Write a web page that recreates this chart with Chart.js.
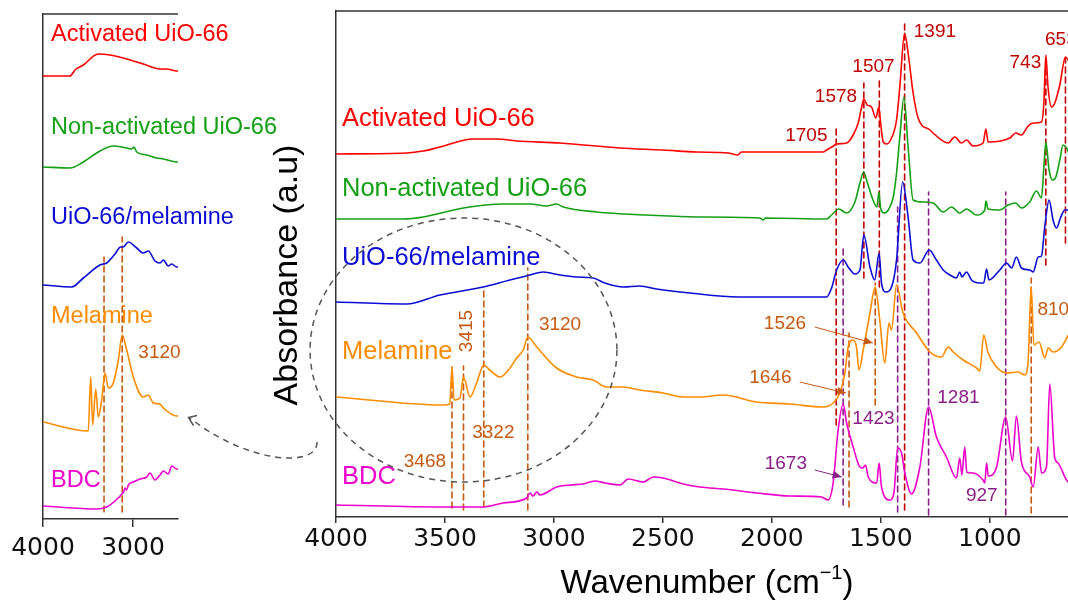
<!DOCTYPE html>
<html>
<head>
<meta charset="utf-8">
<script src="https://cdn.jsdelivr.net/npm/chart.js@4.4.0/dist/chart.umd.min.js"></script>
<style>
  html, body { margin: 0; padding: 0; background: #fff; overflow: hidden; }
  #wrap { position: relative; width: 1068px; height: 602px; overflow: hidden; }
  #wrap canvas { position: absolute; left: 0; top: 0; }
</style>
</head>
<body>
<div id="wrap">
  <canvas id="inset" width="300" height="602"></canvas>
  <canvas id="main" width="1100" height="602"></canvas>
</div>
<script>
// ---------- tick labels ----------
const mainTicks = [4000, 3500, 3000, 2500, 2000, 1500, 1000];
const insetTicks = [4000, 3000];

// ---------- FTIR spectra, main panel: [wavenumber, stacked absorbance] ----------
const activated = [
  [4000,363],[3676,364],[3600,366],[3523,370],[3372,378],[3263,378],[3171,376],[2972,374],
  [2697,369],[2500,367],[2345,365],[2200,364],[2156,362],[2140,365],[1900,365],[1765,365],
  [1749,367],[1711,372],[1705,373],[1657,374],[1627,382],[1604,394],[1589,409],[1578,418],
  [1563,412],[1543,410],[1523,399],[1509,410],[1501,394],[1489,375],[1474,373],[1451,379],
  [1428,397],[1413,430],[1391,484],[1375,464],[1352,424],[1329,399],[1275,387],[1191,374],
  [1161,380],[1130,374],[1107,377],[1077,371],[1031,374],[1018,388],[1008,375],[908,379],
  [881,384],[855,382],[824,391],[801,394],[763,395],[752,414],[743,462],[733,430],[717,410],
  [702,414],[679,432],[653,460],[624,449],[600,437]
];
const nonActivated = [
  [4000,298],[3691,298],[3600,300],[3416,309],[3233,313],[3110,313],[3034,311],[2988,313],
  [2957,310],[2804,305],[2575,302],[2345,300],[2055,299],[2040,297],[2030,299],[1749,298],
  [1726,302],[1693,308],[1657,304],[1619,315],[1596,334],[1579,345],[1563,335],[1536,317],
  [1518,310],[1509,325],[1501,309],[1486,304],[1466,307],[1443,320],[1428,344],[1413,380],
  [1394,420],[1375,370],[1352,317],[1306,315],[1260,314],[1214,305],[1176,310],[1138,304],
  [1107,308],[1061,302],[1023,307],[1018,316],[1008,308],[954,307],[916,312],[881,314],
  [855,309],[817,315],[786,326],[763,319],[752,350],[743,375],[728,347],[712,337],[697,340],
  [679,357],[664,372],[648,369],[624,357],[600,347]
];
const uioMelamine = [
  [4000,215],[3676,213],[3523,222],[3324,230],[3202,237],[3110,242],[3049,245],[2972,242],
  [2896,240],[2820,239],[2766,234],[2682,230],[2606,231],[2529,228],[2376,224],[2155,220],
  [1765,220],[1749,220],[1726,229],[1703,247],[1672,257],[1650,250],[1619,243],[1596,247],
  [1578,282],[1550,250],[1528,237],[1508,264],[1497,234],[1477,225],[1451,230],[1428,257],
  [1400,335],[1375,300],[1352,257],[1321,254],[1278,267],[1245,257],[1214,247],[1183,242],
  [1153,239],[1138,245],[1128,240],[1107,245],[1084,237],[1046,234],[1028,234],[1015,248],
  [1004,237],[954,247],[923,254],[900,249],[878,260],[855,249],[817,247],[801,245],[778,260],
  [763,261],[748,290],[728,317],[710,297],[694,289],[676,299],[656,307],[642,307],[600,305]
];
const melamine = [
  [4000,120],[3508,112],[3478,113],[3468,150],[3458,117],[3431,119],[3415,140],[3385,120],
  [3355,134],[3322,152],[3294,147],[3248,140],[3202,149],[3171,159],[3141,167],[3120,180],
  [3079,170],[2988,149],[2896,140],[2820,137],[2758,130],[2682,130],[2606,127],[2499,124],
  [2406,120],[2330,120],[2223,122],[2070,115],[1917,113],[1765,110],[1719,114],[1688,124],
  [1665,144],[1650,170],[1627,177],[1612,170],[1600,147],[1581,167],[1550,204],[1526,230],
  [1505,197],[1482,154],[1463,194],[1451,187],[1428,232],[1398,204],[1336,184],[1275,165],
  [1222,160],[1191,170],[1168,165],[1122,157],[1061,149],[1046,146],[1028,182],[1009,165],
  [969,150],[923,144],[870,145],[839,142],[824,157],[810,230],[798,172],[774,175],[748,159],
  [732,169],[710,165],[671,170],[642,181],[600,197]
];
const bdc = [
  [4000,12],[3508,10],[3324,10],[3233,14],[3125,19],[3110,24],[3096,21],[3078,25],[3064,22],
  [2988,30],[2927,32],[2866,33],[2812,36],[2766,34],[2697,32],[2659,38],[2590,35],[2544,40],
  [2499,39],[2406,33],[2330,30],[2223,28],[2070,24],[1917,21],[1772,20],[1742,17],[1719,34],
  [1696,87],[1673,113],[1657,94],[1627,70],[1596,50],[1583,49],[1570,52],[1558,40],[1519,34],
  [1508,54],[1497,30],[1459,17],[1440,24],[1423,69],[1405,64],[1390,44],[1359,23],[1321,50],
  [1281,110],[1245,80],[1199,60],[1153,39],[1138,59],[1128,42],[1115,70],[1106,45],[1077,44],
  [1031,37],[1023,34],[1015,54],[1007,41],[969,50],[927,100],[896,56],[878,101],[855,55],
  [817,40],[801,30],[778,70],[763,44],[740,50],[725,133],[702,59],[687,54],[648,37],[600,27]
];

// ---------- FTIR spectra, 4000-2500 inset ----------
const insetActivated = [
  [4000,443],[3700,443],[3644,449],[3552,454],[3386,465],[3256,464],[3070,460],[2886,455],
  [2700,450],[2626,450],[2514,448],[2500,448]
];
const insetNonActivated = [
  [4000,352],[3700,351],[3552,357],[3367,368],[3219,373],[3070,371],[3014,370],[2989,372],
  [2959,367],[2848,364],[2737,361],[2663,360],[2514,357],[2500,357]
];
const insetUioMelamine = [
  [4000,234],[3681,232],[3552,241],[3367,254],[3292,256],[3200,265],[3137,272],[3108,272],
  [3052,277],[2959,271],[2886,266],[2830,268],[2756,258],[2700,256],[2663,259],[2608,253],
  [2570,255],[2514,252],[2500,252]
];
const insetMelamine = [
  [4000,97],[3497,88],[3470,142],[3448,94],[3414,130],[3386,102],[3348,119],[3311,146],
  [3274,131],[3219,136],[3163,159],[3120,184],[3070,169],[2997,142],[2886,122],[2830,124],
  [2774,116],[2700,115],[2663,111],[2514,103],[2500,103]
];
const insetBdc = [
  [4000,13],[3403,10],[3292,12],[3200,18],[3114,26],[3100,28],[3089,31],[3072,29],[3052,34],
  [2997,37],[2922,40],[2848,42],[2811,46],[2756,39],[2700,44],[2663,48],[2608,45],[2570,53],
  [2514,50],[2500,50]
];

// ---------- assigned bands: wavenumber and the span of each dashed guide ----------
const zrBands = [1705, 1578, 1507, 1391, 743, 653];
const zrSpans = [[92,389],[239,434],[230,437],[7,494],[252,460],[274,459]];
const melBands = [3468, 3415, 3322, 3120, 1646, 1526, 810];
const melSpans = [[9,150],[7,151],[10,230],[7,249],[10,184],[112,234],[4,239]];
const bdcBands = [1673, 1423, 1281, 927];
const bdcSpans = [[12,270],[5,310],[2,325],[2,325]];
const insetBands = [3322, 3120];
const insetSpans = [[7,262],[7,282]];

// ---------- styling ----------
const FONT = '"Liberation Sans", Arial, sans-serif';
const TICK_FONT = '"DejaVu Sans", Verdana, sans-serif';
const COL = {
  act: '#ff0000', non: '#14a014', uio: '#0c0cd4', mel: '#ff8c00', bdc: '#ee00cc',
  zr: '#c00000', melNum: '#c55a11', bdcNum: '#8b2088', axis: '#333333', grey: '#555555'
};

function curve(points, color) {
  return {
    data: points.map(([x, y]) => ({ x, y })),
    borderColor: color, borderWidth: 1.6, pointRadius: 0, fill: false,
    cubicInterpolationMode: 'monotone'
  };
}
function guides(bands, spans, color) {
  return bands.map((wn, i) => ({
    data: [{ x: wn, y: spans[i][0] }, { x: wn, y: spans[i][1] }],
    borderColor: color, borderWidth: 1.6, borderDash: [6, 4], pointRadius: 0,
    fill: false, tension: 0
  }));
}

function putText(ctx, str, x, y, color, font, align) {
  ctx.fillStyle = color;
  ctx.font = font;
  ctx.textAlign = align || 'center';
  ctx.textBaseline = 'middle';
  ctx.fillText(str, x, y);
}
function arrowLine(ctx, x0, y0, x1, y1, color) {
  ctx.strokeStyle = color; ctx.fillStyle = color; ctx.lineWidth = 1;
  ctx.setLineDash([]);
  ctx.beginPath(); ctx.moveTo(x0, y0); ctx.lineTo(x1, y1); ctx.stroke();
  const a = Math.atan2(y1 - y0, x1 - x0), L = 9, W = 4;
  ctx.beginPath();
  ctx.moveTo(x1, y1);
  ctx.lineTo(x1 - L * Math.cos(a) + W * Math.sin(a), y1 - L * Math.sin(a) - W * Math.cos(a));
  ctx.lineTo(x1 - L * Math.cos(a) - W * Math.sin(a), y1 - L * Math.sin(a) + W * Math.cos(a));
  ctx.closePath(); ctx.fill();
}

// ---------- label placement (wavenumber, absorbance) ----------
const seriesLabelsMain = [
  ['Activated UiO-66', COL.act, 398],
  ['Non-activated UiO-66', COL.non, 328],
  ['UiO-66/melamine', COL.uio, 259],
  ['Melamine', COL.mel, 165],
  ['BDC', COL.bdc, 40]
];
const zrLabelPos = { 1705: [1842, 381], 1578: [1706, 420], 1507: [1534, 450], 1391: [1252, 485], 743: [837, 454], 653: [674, 477] };
const melLabelPos = { 3468: [3592, 55], 3322: [3278, 84], 3120: [2972, 192], 1526: [1940, 193], 1646: [2007, 139], 810: [709, 207] };
const bdcLabelPos = { 1673: [1936, 53], 1423: [1534, 98], 1281: [1144, 119], 927: [1037, 21] };

const mainDecor = {
  id: 'mainDecor',
  afterDraw(chart) {
    const { ctx, chartArea: a, scales: { x, y } } = chart;
    const X = v => x.getPixelForValue(v), Y = v => y.getPixelForValue(v);
    ctx.save();
    // frame top edge
    ctx.strokeStyle = COL.axis; ctx.lineWidth = 1.5;
    ctx.beginPath(); ctx.moveTo(a.left, a.top); ctx.lineTo(a.right, a.top); ctx.stroke();

    // spectrum names
    const nameFont = `25.5px ${FONT}`;
    seriesLabelsMain.forEach(([t, c, v]) => putText(ctx, t, a.left + 6, Y(v), c, nameFont, 'left'));

    // band values
    const numFont = `19px ${FONT}`;
    zrBands.forEach(b => { const p = zrLabelPos[b]; putText(ctx, String(b), X(p[0]), Y(p[1]), COL.zr, numFont); });
    melBands.forEach(b => {
      const p = melLabelPos[b];
      if (p) putText(ctx, String(b), X(p[0]), Y(p[1]), COL.melNum, numFont);
    });
    bdcBands.forEach(b => { const p = bdcLabelPos[b]; putText(ctx, String(b), X(p[0]), Y(p[1]), COL.bdcNum, numFont); });

    // 3415 written vertically
    ctx.save();
    ctx.translate(X(3399), Y(186));
    ctx.rotate(-Math.PI / 2);
    putText(ctx, String(3415), 0, 0, COL.melNum, numFont);
    ctx.restore();

    // pointer arrows
    arrowLine(ctx, X(1803), Y(190), X(1537), Y(174), COL.melNum);
    arrowLine(ctx, X(1872), Y(135), X(1660), Y(124), COL.melNum);
    arrowLine(ctx, X(1803), Y(47), X(1680), Y(40), COL.bdcNum);

    // dashed ellipse around the N-H / O-H region
    ctx.strokeStyle = COL.grey; ctx.lineWidth = 1.5; ctx.setLineDash([6, 5]);
    const cx = X(3415), cy = Y(167);
    const rx = Math.abs(X(3415 - 704) - cx), ry = Math.abs(Y(167 + 132) - cy);
    ctx.beginPath(); ctx.ellipse(cx, cy, rx, ry, 0, 0, Math.PI * 2); ctx.stroke();

    // curved pointer to the inset
    ctx.beginPath();
    ctx.moveTo(317, 442);
    ctx.bezierCurveTo(318, 468, 248, 464, 190, 418);
    ctx.stroke();
    ctx.setLineDash([]);
    ctx.beginPath();
    ctx.moveTo(197, 415.5); ctx.lineTo(188.5, 417.5); ctx.lineTo(193.5, 425.5);
    ctx.stroke();

    // axis titles
    ctx.save();
    ctx.translate(288, 275);
    ctx.rotate(-Math.PI / 2);
    putText(ctx, 'Absorbance (a.u)', 0, 0, '#000', `34px ${FONT}`);
    ctx.restore();

    const t1 = 'Wavenumber (cm', t2 = '\u22121', t3 = ')';
    const big = `33px ${FONT}`, small = `20px ${FONT}`;
    ctx.font = big; const w1 = ctx.measureText(t1).width, w3 = ctx.measureText(t3).width;
    ctx.font = small; const w2 = ctx.measureText(t2).width;
    let sx = 707 - (w1 + w2 + w3) / 2;
    const base = 593;
    ctx.fillStyle = '#000'; ctx.textAlign = 'left'; ctx.textBaseline = 'alphabetic';
    ctx.font = big; ctx.fillText(t1, sx, base);
    ctx.font = small; ctx.fillText(t2, sx + w1, base - 14);
    ctx.font = big; ctx.fillText(t3, sx + w1 + w2, base);
    ctx.restore();
  }
};

const insetLabels = [
  ['Activated UiO-66', COL.act, 484],
  ['Non-activated UiO-66', COL.non, 391],
  ['UiO-66/melamine', COL.uio, 301],
  ['Melamine', COL.mel, 202],
  ['BDC', COL.bdc, 38]
];
const insetDecor = {
  id: 'insetDecor',
  afterDraw(chart) {
    const { ctx, chartArea: a, scales: { x, y } } = chart;
    const X = v => x.getPixelForValue(v), Y = v => y.getPixelForValue(v);
    ctx.save();
    ctx.strokeStyle = COL.axis; ctx.lineWidth = 1.5;
    ctx.beginPath(); ctx.moveTo(a.left, a.top); ctx.lineTo(a.right, a.top); ctx.stroke();
    const f = `23.5px ${FONT}`;
    insetLabels.forEach(([t, c, v]) => putText(ctx, t, a.left + 8, Y(v), c, f, 'left'));
    putText(ctx, String(insetBands[1]), X(2706), Y(166), COL.melNum, `19px ${FONT}`);
    ctx.restore();
  }
};

function axes(min, ticks, xHeight, tickLen, tickPad) {
  return {
    x: {
      type: 'linear', reverse: true, min: min, max: 4000,
      afterBuildTicks: s => { s.ticks = ticks.map(v => ({ value: v })); },
      afterFit: s => { s.height = xHeight; },
      ticks: {
        font: { family: TICK_FONT, size: 25 }, color: '#111', padding: tickPad,
        maxRotation: 0, autoSkip: false, callback: v => String(v)
      },
      grid: { drawOnChartArea: false, drawTicks: true, tickLength: tickLen, color: COL.axis, lineWidth: 1.5 },
      border: { color: COL.axis, width: 1.5 }
    },
    y: {
      min: 0, max: 506,
      afterFit: s => { s.width = 0; },
      ticks: { display: false },
      grid: { display: false },
      border: { color: COL.axis, width: 1.5 }
    }
  };
}

const common = {
  responsive: false, animation: false, devicePixelRatio: 1,
  plugins: { legend: { display: false }, tooltip: { enabled: false } },
  elements: { line: { borderCapStyle: 'round', borderJoinStyle: 'round' } }
};

new Chart(document.getElementById('main'), {
  type: 'line',
  data: {
    datasets: [
      curve(activated, COL.act),
      curve(nonActivated, COL.non),
      curve(uioMelamine, COL.uio),
      curve(melamine, COL.mel),
      curve(bdc, COL.bdc),
      ...guides(zrBands, zrSpans, COL.zr),
      ...guides(melBands, melSpans, COL.melNum),
      ...guides(bdcBands, bdcSpans, COL.bdcNum)
    ]
  },
  options: Object.assign({}, common, {
    layout: { padding: { left: 336, top: 11, right: 23, bottom: 0 } },
    scales: axes(600, mainTicks, 85, 6, 1)
  }),
  plugins: [mainDecor]
});

const insetChart = new Chart(document.getElementById('inset'), {
  type: 'line',
  data: {
    datasets: [
      curve(insetActivated, COL.act),
      curve(insetNonActivated, COL.non),
      curve(insetUioMelamine, COL.uio),
      curve(insetMelamine, COL.mel),
      curve(insetBdc, COL.bdc),
      ...guides(insetBands, insetSpans, COL.melNum)
    ]
  },
  options: Object.assign({}, common, {
    layout: { padding: { left: 43, top: 14, right: 122, bottom: 0 } },
    scales: axes(2500, insetTicks, 83, 8, 6)
  }),
  plugins: [insetDecor]
});
insetChart.options.scales.y.max = 505;
insetChart.update();
</script>
</body>
</html>
